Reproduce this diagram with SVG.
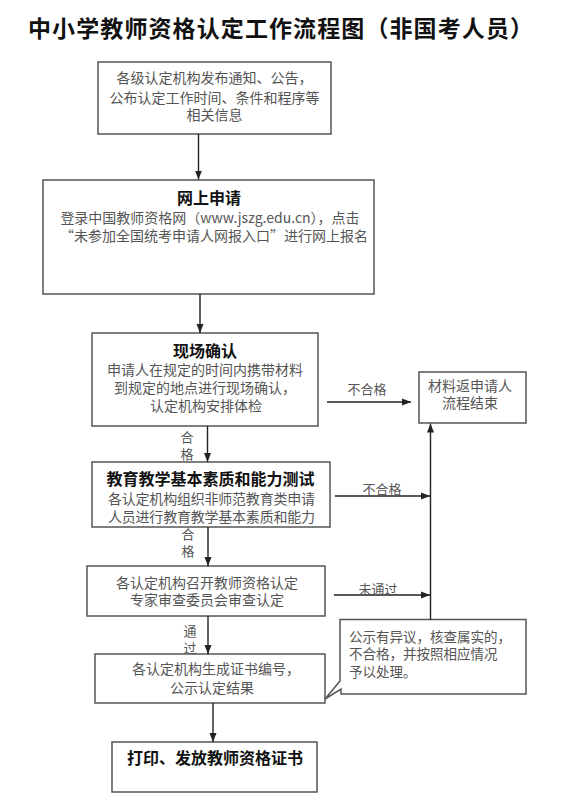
<svg xmlns="http://www.w3.org/2000/svg" width="571" height="800" viewBox="0 0 571 800">
<defs>
<marker id="ah" markerWidth="9" markerHeight="8" refX="9" refY="4" orient="auto" markerUnits="userSpaceOnUse"><path d="M0,0.5 L9,4 L0,7.5 Z" fill="#222"/></marker>
</defs>
<style>
.box{fill:#fff;stroke:#555;stroke-width:1.5}
.t{font-family:"Noto Sans CJK SC","Noto Sans CJK JP",sans-serif;font-size:14px;fill:#555;text-anchor:middle;dominant-baseline:central}
.tl{font-family:"Noto Sans CJK SC","Noto Sans CJK JP",sans-serif;font-size:13.5px;fill:#555;dominant-baseline:central}
.h{font-family:"Noto Sans CJK SC","Noto Sans CJK JP",sans-serif;font-size:16px;font-weight:bold;fill:#111;text-anchor:middle;dominant-baseline:central}
.lb{font-family:"Noto Sans CJK SC","Noto Sans CJK JP",sans-serif;font-size:13px;fill:#555;text-anchor:middle;dominant-baseline:central}
.ln{fill:none;stroke:#222;stroke-width:1.4}
</style>
<rect width="571" height="800" fill="#fff"/>
<text x="28" y="27" font-family="Noto Sans CJK SC, Noto Sans CJK JP, sans-serif" font-size="23" font-weight="bold" fill="#111" dominant-baseline="central" textLength="505" lengthAdjust="spacing">中小学教师资格认定工作流程图（非国考人员）</text>

<g id="n1">
<rect class="box" x="98" y="62" width="233" height="72"/>
<text class="t" x="214.5" y="77">各级认定机构发布通知、公告，</text>
<text class="t" x="214.5" y="96.5">公布认定工作时间、条件和程序等</text>
<text class="t" x="214.5" y="114">相关信息</text>
</g>
<g id="n2">
<rect class="box" x="43" y="180" width="331" height="114"/>
<text class="h" x="209" y="197">网上申请</text>
<text class="t" x="210" y="217">登录中国教师资格网（www.jszg.edu.cn），点击</text>
<text class="t" x="214" y="235">“未参加全国统考申请人网报入口”进行网上报名</text>
</g>
<g id="n3">
<rect class="box" x="92" y="333" width="226" height="93"/>
<text class="h" x="205" y="350">现场确认</text>
<text class="t" x="205" y="369">申请人在规定的时间内携带材料</text>
<text class="t" x="205" y="387">到规定的地点进行现场确认，</text>
<text class="t" x="206" y="405">认定机构安排体检</text>
</g>
<g id="n_end">
<rect class="box" x="419" y="372" width="107" height="51"/>
<text class="t" x="470" y="385">材料返申请人</text>
<text class="t" x="470" y="402">流程结束</text>
</g>
<g id="n4">
<rect class="box" x="92" y="462" width="238" height="65"/>
<text class="h" x="210.5" y="478">教育教学基本素质和能力测试</text>
<text class="t" x="211.5" y="498" textLength="207" lengthAdjust="spacing">各认定机构组织非师范教育类申请</text>
<text class="t" x="211.5" y="516" textLength="207" lengthAdjust="spacing">人员进行教育教学基本素质和能力</text>
</g>
<g id="n5">
<rect class="box" x="87" y="566" width="238" height="50"/>
<text class="t" x="207" y="582">各认定机构召开教师资格认定</text>
<text class="t" x="207" y="599">专家审查委员会审查认定</text>
</g>
<g id="n6">
<rect class="box" x="95" y="654" width="230" height="49"/>
<text class="t" x="216" y="668">各认定机构生成证书编号，</text>
<text class="t" x="212" y="687">公示认定结果</text>
</g>
<g id="n7">
<rect class="box" x="112" y="742" width="205" height="50"/>
<text class="h" x="215" y="757">打印、发放教师资格证书</text>
</g>
<g id="note">
<path class="box" d="M340,619.5 H526 V694 H341 V689 L325,699 L340,681 Z"/>
<text class="tl" x="349" y="636">公示有异议，核查属实的，</text>
<text class="tl" x="349" y="653">不合格，并按照相应情况</text>
<text class="tl" x="349" y="671">予以处理。</text>
</g>

<g id="connectors">
<path class="ln" d="M198.5,134 V179.5" marker-end="url(#ah)"/>
<path class="ln" d="M200,294 V333" marker-end="url(#ah)"/>
<path class="ln" d="M207.5,426 V462" marker-end="url(#ah)"/>
<path class="ln" d="M208,527 V566" marker-end="url(#ah)"/>
<path class="ln" d="M208,616 V654" marker-end="url(#ah)"/>
<path class="ln" d="M213,703 V742" marker-end="url(#ah)"/>
<path class="ln" d="M327,402 H411" marker-end="url(#ah)"/>
<path class="ln" d="M335,496 H430" marker-end="url(#ah)"/>
<path class="ln" d="M334,595 H430" marker-end="url(#ah)"/>
<path class="ln" d="M430.5,620 V423.5" marker-end="url(#ah)"/>
<text class="lb" x="367" y="388">不合格</text>
<text class="lb" x="382" y="488">不合格</text>
<text class="lb" x="378" y="588">未通过</text>
<text class="lb" x="187" y="436">合</text>
<text class="lb" x="187" y="453">格</text>
<text class="lb" x="188" y="533">合</text>
<text class="lb" x="188" y="550">格</text>
<text class="lb" x="190" y="630">通</text>
<text class="lb" x="190" y="647">过</text>
</g>
</svg>
